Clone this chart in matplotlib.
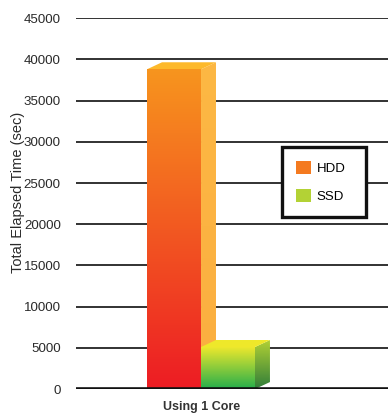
import numpy as np
import matplotlib.pyplot as plt
from matplotlib.patches import Polygon
from matplotlib.colors import LinearSegmentedColormap

plt.rcParams['font.family'] = ['Liberation Sans', 'DejaVu Sans']

# elapsed time in seconds for each drive type
drives = ['HDD', 'SSD']
elapsed = [38800, 5100]
group_label = 'Using 1 Core'
yticks = [0, 5000, 10000, 15000, 20000, 25000, 30000, 35000, 40000, 45000]

# face colours: front (top -> bottom), side (top -> bottom), top
front_cols = [('#f7951e', '#ed1c24'), ('#f2e92c', '#24ae4c')]
side_cols = [('#fdb844', '#fbae40'), ('#b4d234', '#2f7d3a')]
top_cols = ['#fdb92b', '#eee82a']
legend_cols = ['#f47a20', '#b3d235']

fig = plt.figure(figsize=(3.88, 4.13), dpi=100)
ax = fig.add_axes([0.196, 0.058, 0.804, 0.898])
ax.set_xlim(0, 1)
ax.set_ylim(0, 45000)

bar_w = 0.173
x0 = 0.2276
dx = 0.048     # depth offset in x
dy = 850       # depth offset in y


def grad_fill(poly, c_top, c_bot, y_lo, y_hi, z):
    cmap = LinearSegmentedColormap.from_list('g', [c_bot, c_top])
    xs = [p[0] for p in poly]
    img = ax.imshow(np.linspace(0, 1, 256).reshape(-1, 1), cmap=cmap,
                    origin='lower', aspect='auto',
                    extent=[min(xs), max(xs), y_lo, y_hi], zorder=z)
    clip = Polygon(poly, closed=True, transform=ax.transData)
    img.set_clip_path(clip)


for i, (name, val) in enumerate(zip(drives, elapsed)):
    left = x0 + i * bar_w
    right = left + bar_w
    z = 2 + i * 3
    # side face
    side = [(right, 0), (right + dx, dy), (right + dx, val + dy), (right, val)]
    grad_fill(side, side_cols[i][0], side_cols[i][1], 0, val + dy, z)
    # top face
    top = Polygon([(left, val), (left + dx, val + dy), (right + dx, val + dy), (right, val)],
                  closed=True, facecolor=top_cols[i], edgecolor='none', zorder=z + 1)
    ax.add_patch(top)
    # front face
    front = [(left, 0), (right, 0), (right, val), (left, val)]
    grad_fill(front, front_cols[i][0], front_cols[i][1], 0, val, z + 2)

ax.set_yticks(yticks)
ax.set_yticklabels([str(t) for t in yticks], fontsize=9.6, color='#2a2a2a')
ax.tick_params(axis='y', length=0, pad=11)
ax.set_xticks([])
for s in ax.spines.values():
    s.set_visible(False)
for t in yticks[1:]:
    ax.axhline(t, color='#222222', lw=1.3, zorder=1)
ax.axhline(0, color='#111111', lw=2.6, zorder=20)

ax.set_ylabel('Total Elapsed Time (sec)', fontsize=10.5, color='#2a2a2a')
ax.yaxis.set_label_coords(-0.165, 0.53)
fig.text(0.519, 0.0, group_label, fontsize=9, fontweight='bold',
         color='#333333', ha='center', va='bottom')

handles = [plt.Rectangle((0, 0), 1, 1, facecolor=c, edgecolor='none') for c in legend_cols]
leg = ax.legend(handles, drives, loc='upper left', mode='expand',
                bbox_to_anchor=(0.66, 0.652 - 0.19, 0.27, 0.19),
                fontsize=9.5, frameon=True, fancybox=False, borderpad=1.05,
                labelspacing=1.05, handlelength=1.15, handleheight=1.15,
                handletextpad=0.45, borderaxespad=0)
leg.get_frame().set_edgecolor('#111111')
leg.get_frame().set_linewidth(2.4)
leg.get_frame().set_alpha(1)
leg.set_zorder(30)

fig.savefig('out.png', dpi=100)
